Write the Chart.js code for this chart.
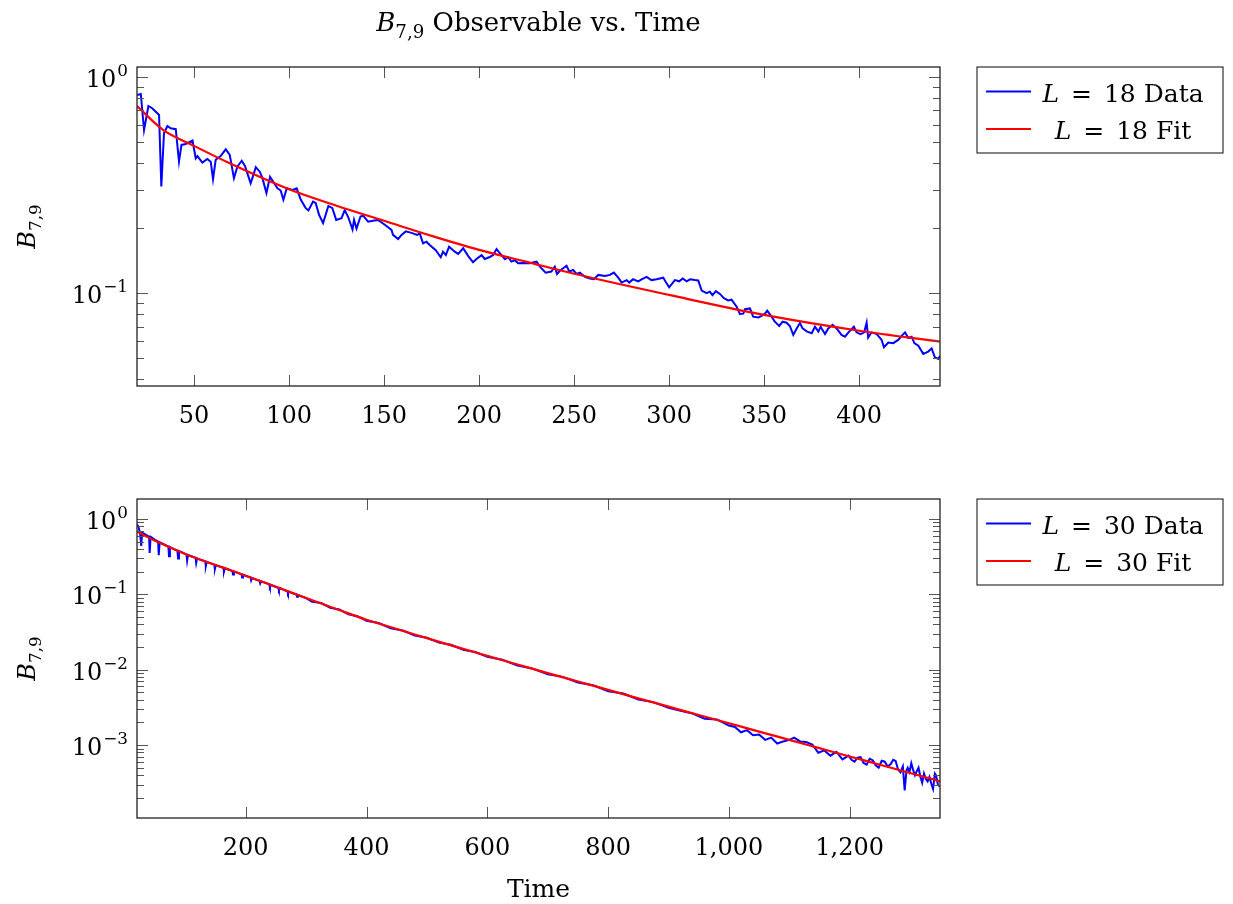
<!DOCTYPE html>
<html>
<head>
<meta charset="utf-8">
<script src="https://cdn.jsdelivr.net/npm/chart.js@4"></script>
<style>
  body { margin: 0; background: #fff; }
  canvas { position: absolute; left: 0; }
</style>
</head>
<body>
<canvas id="topChart" width="1233" height="452" style="top:0"></canvas>
<canvas id="bottomChart" width="1233" height="452" style="top:452px"></canvas>
<script>
// L = 18 data
const topTime = [20,22,23.7,26,28,30.7,31.6,32.8,34.2,36,37.7,40.4,42.1,43.4,45.6,49.2,50.9,51.8,54.4,57,58.8,60,61.4,64,66.7,68.8,71,72.8,75.1,76.8,79.8,80.7,82.5,84.6,86,88.1,90,91.6,93.9,95.6,97,98.8,101.8,104,106.2,108.8,110.2,112.6,114,115.8,117.9,120.7,122.8,124.8,127.6,129.3,131,133.4,134.2,135.5,137.6,139,141.6,144.2,146.8,150.4,153.9,154.7,157.4,159.2,161.4,164.4,167.4,168.8,170.5,172.3,174,177.2,179.8,181,182.5,184.2,187.2,189,191.6,194.2,196.8,198.6,201.3,203,205.6,207.4,209.2,210.9,213.6,215.3,217,218.8,220.5,223.2,226.7,230.2,232,235,238,239.8,241,242.5,246,247.4,249.5,251.3,253,255.7,258.3,260.4,262.7,266.2,268.8,270.9,273.2,275,277.6,279,281,283.7,285.5,288.1,290.7,293.4,296.9,298.3,300,303,305.3,307.1,309.2,311,313.5,315.3,317.1,319.7,321.4,322.8,324.6,326.7,328.8,331,332.8,335.5,337.2,339,339.9,342.5,344.2,346.9,348.6,350.4,351.6,353.9,355.6,357.9,359.7,361.8,363.5,365.3,367.1,368.8,370.2,372.6,375,376.7,378.5,379.7,382,383.7,386,388.1,390.7,392.5,394.7,397.2,398.6,400.7,402.6,403.9,404.7,406.5,409.2,411.8,413,415.3,417.9,420.5,422.3,424.1,425.8,427.6,429,431.1,433.7,436.3,438.1,439.8,441.6,442.5];
const topData = [0.823,0.832,0.567,0.732,0.715,0.678,0.665,0.311,0.548,0.592,0.578,0.572,0.405,0.484,0.489,0.507,0.42,0.43,0.401,0.417,0.405,0.336,0.413,0.43,0.462,0.435,0.34,0.384,0.409,0.387,0.322,0.34,0.382,0.364,0.34,0.29,0.345,0.328,0.305,0.298,0.27,0.305,0.3,0.305,0.27,0.247,0.241,0.265,0.261,0.23,0.211,0.253,0.247,0.218,0.222,0.242,0.226,0.197,0.218,0.199,0.226,0.228,0.214,0.216,0.218,0.207,0.196,0.186,0.178,0.186,0.193,0.19,0.186,0.189,0.17,0.173,0.167,0.158,0.1466,0.1556,0.15,0.164,0.1556,0.152,0.1613,0.1487,0.139,0.144,0.15,0.144,0.147,0.15,0.16,0.153,0.1435,0.1466,0.14,0.142,0.1375,0.138,0.1375,0.14,0.1327,0.1245,0.126,0.1327,0.1228,0.127,0.134,0.126,0.128,0.1228,0.1245,0.119,0.117,0.116,0.1215,0.12,0.1215,0.1245,0.118,0.112,0.115,0.112,0.116,0.1135,0.116,0.119,0.115,0.116,0.118,0.1125,0.1065,0.115,0.1135,0.117,0.1135,0.116,0.115,0.1145,0.1028,0.1,0.1017,0.098,0.1023,0.0993,0.0948,0.0927,0.0934,0.0867,0.0802,0.0805,0.0844,0.0851,0.078,0.0772,0.0786,0.0805,0.0831,0.078,0.0739,0.0706,0.0739,0.0731,0.0706,0.0642,0.0688,0.0728,0.0688,0.0665,0.0654,0.07,0.0665,0.07,0.0648,0.0688,0.0714,0.0688,0.0642,0.063,0.0665,0.07,0.066,0.0648,0.066,0.0731,0.0624,0.066,0.0648,0.0609,0.0563,0.0592,0.0588,0.0609,0.0636,0.066,0.0621,0.063,0.0588,0.0573,0.0525,0.0538,0.0556,0.0506,0.0497,0.0513];
const topFitTime = [20,33.7,50,68.8,100,125,150,175,200,225,250,300,350,400,442.5];
const topFit = [0.731,0.568,0.479,0.398,0.302,0.2535,0.216,0.184,0.1585,0.1396,0.123,0.0982,0.0794,0.0671,0.0598];

// L = 30 data
const botTime = [20,22,25,27,28.5,33,40,41,42.5,50,55,56,57.5,65,72,73,74.5,80,87,88,89.5,95,102,103,104.5,110,117,118,119.5,126,133,134,135.5,141,148,149,150.5,156,163,164,165.5,171,178,179,180.5,186,193,194,195.5,201,208,209,210.5,216,223,224,225.5,232,239,240,241.5,247,254,255,256.5,262,269,270,271.5,277,284,285,286.5,292,300,310,325,340,355,370,385,400,420,440,460,480,500,520,540,560,580,600,625,650,675,700,725,750,775,800,825,850,875,900,920,940,960,980,1000,1010,1020,1030,1040,1050,1060,1070,1080,1090,1100,1108,1118,1128,1138,1148,1158,1168,1178,1188,1198,1203,1208,1213,1218,1223,1228,1233,1238,1243,1248,1253,1258,1263,1268,1272,1276,1280,1284,1288,1291,1294,1296,1299,1302,1305,1308,1311,1314,1317,1320,1323,1326,1329,1332,1335,1338,1341,1343,1346,1349];
const botData = [0.84,0.80,0.66,0.44,0.66,0.63,0.58,0.353,0.58,0.53,0.5,0.33,0.49,0.46,0.43,0.32,0.425,0.40,0.38,0.30,0.375,0.36,0.337,0.28,0.333,0.32,0.305,0.26,0.30,0.287,0.274,0.238,0.27,0.26,0.248,0.218,0.245,0.235,0.225,0.2,0.222,0.214,0.204,0.183,0.201,0.194,0.185,0.167,0.182,0.175,0.167,0.153,0.165,0.158,0.151,0.14,0.149,0.143,0.136,0.126,0.134,0.128,0.122,0.114,0.121,0.116,0.11,0.103,0.109,0.104,0.0995,0.093,0.098,0.094,0.0891,0.0794,0.0767,0.0661,0.0631,0.0543,0.0513,0.0447,0.0417,0.0355,0.0331,0.0285,0.0266,0.0229,0.0214,0.0184,0.0172,0.0148,0.01355,0.01135,0.01035,0.00871,0.00804,0.00676,0.00624,0.00519,0.00484,0.00403,0.00372,0.00313,0.00285,0.00263,0.00224,0.00219,0.00182,0.00174,0.00148,0.00158,0.00135,0.00138,0.001175,0.00126,0.00105,0.00112,0.001175,0.00126,0.00112,0.0011,0.00102,0.000794,0.000851,0.000724,0.000813,0.000646,0.000724,0.00064,0.000603,0.00068,0.000692,0.00058,0.00055,0.00066,0.000631,0.00054,0.000501,0.00062,0.000603,0.00052,0.000562,0.00064,0.000617,0.00048,0.000437,0.00052,0.000251,0.00046,0.000501,0.00044,0.000575,0.00047,0.000398,0.00045,0.000501,0.00038,0.000316,0.00042,0.000355,0.00033,0.00038,0.00031,0.000263,0.00042,0.000398,0.0003,0.000282];
const botFitTime = [20,35,50,75,100,125,150,175,200,250,300,350,400,450,500,550,600,650,700,750,800,850,900,950,1000,1050,1100,1150,1200,1250,1300,1349.5];
const botFit = [0.684,0.59,0.513,0.419,0.343,0.288,0.245,0.209,0.1766,0.126,0.0893,0.0641,0.046,0.0347,0.0263,0.01995,0.01528,0.01175,0.00902,0.00698,0.00541,0.00417,0.00324,0.00251,0.00195,0.00151,0.001175,0.000912,0.000708,0.00055,0.000427,0.000331];

const FONT = '"DejaVu Serif", "Liberation Serif", serif';
const FS = 24;

function pairs(xs, ys) {
  return xs.map((x, i) => ({ x: x, y: ys[i] }));
}

// draw text made of runs: plain, italic, subscript, superscript
function drawRich(ctx, parts, x, y, size, align) {
  const runs = parts.map(p => {
    const small = p.s === 'sub' || p.s === 'sup';
    const font = (p.s === 'i' ? 'italic ' : '') + (small ? size * 0.7 : size) + 'px ' + FONT;
    ctx.font = font;
    const dy = p.s === 'sub' ? size * 0.26 : p.s === 'sup' ? -size * 0.45 : 0;
    return { t: p.t, font: font, w: ctx.measureText(p.t).width + (p.gap || 0), dy: dy };
  });
  const total = runs.reduce((a, r) => a + r.w, 0);
  let cx = align === 'right' ? x - total : align === 'center' ? x - total / 2 : x;
  ctx.textAlign = 'left';
  ctx.textBaseline = 'alphabetic';
  runs.forEach(r => {
    ctx.font = r.font;
    ctx.fillText(r.t, cx, y + r.dy);
    cx += r.w;
  });
}

const pgfAxes = {
  id: 'pgfAxes',
  afterDatasetsDraw(chart, args, opts) {
    const ctx = chart.ctx;
    const a = chart.chartArea;
    const xs = chart.scales.x, ys = chart.scales.y;
    ctx.save();

    function seg(x1, y1, x2, y2) {
      ctx.beginPath(); ctx.moveTo(x1, y1); ctx.lineTo(x2, y2); ctx.stroke();
    }

    // ticks pointing inwards on all four sides
    ctx.strokeStyle = '#555';
    ctx.lineWidth = 1;
    xs.ticks.forEach(t => {
      const px = Math.round(xs.getPixelForValue(t.value)) + 0.5;
      seg(px, a.bottom, px, a.bottom - 11);
      seg(px, a.top, px, a.top + 11);
    });
    const lo = Math.floor(Math.log10(ys.min)), hi = Math.ceil(Math.log10(ys.max));
    const majors = [];
    for (let e = lo; e <= hi; e++) {
      for (let m = 1; m <= 9; m++) {
        const v = m * Math.pow(10, e);
        if (v < ys.min || v > ys.max) continue;
        const py = Math.round(ys.getPixelForValue(v)) + 0.5;
        const len = m === 1 ? 11 : 7;
        seg(a.left, py, a.left + len, py);
        seg(a.right, py, a.right - len, py);
        if (m === 1) majors.push({ e: e, py: py });
      }
    }

    // frame
    ctx.strokeStyle = '#222';
    ctx.lineWidth = 1.3;
    ctx.strokeRect(a.left, a.top, a.right - a.left, a.bottom - a.top);

    // tick labels
    ctx.fillStyle = '#000';
    ctx.textBaseline = 'alphabetic';
    xs.ticks.forEach(t => {
      ctx.font = FS + 'px ' + FONT;
      ctx.textAlign = 'center';
      ctx.fillText(t.value.toLocaleString('en-US'), xs.getPixelForValue(t.value), a.bottom + 37);
    });
    majors.forEach(m => {
      const ex = m.e < 0 ? '\u2212' + (-m.e) : String(m.e);
      drawRich(ctx, [{ t: '10', gap: 1 }, { t: ex, s: 'sup' }], a.left - 9, m.py + 9, FS, 'right');
    });

    // y axis title
    ctx.save();
    ctx.translate(35, (a.top + a.bottom) / 2);
    ctx.rotate(-Math.PI / 2);
    drawRich(ctx, [{ t: 'B', s: 'i' }, { t: '7,9', s: 'sub' }], 0, 0, FS, 'center');
    ctx.restore();

    const cx = (a.left + a.right) / 2;
    if (opts.title) {
      drawRich(ctx, [{ t: 'B', s: 'i' }, { t: '7,9', s: 'sub' }, { t: ' Observable vs. Time' }], cx, 31, 26, 'center');
    }
    if (opts.xTitle) {
      drawRich(ctx, [{ t: opts.xTitle }], cx, a.bottom + 79, 25, 'center');
    }

    // legend box to the right of the plot
    const lx = a.right + 37, ly = a.top;
    ctx.fillStyle = '#fff';
    ctx.fillRect(lx, ly, 246, 86);
    ctx.strokeStyle = '#333';
    ctx.lineWidth = 1.2;
    ctx.strokeRect(lx, ly, 246, 86);
    chart.data.datasets.forEach((ds, i) => {
      const rowY = ly + 24.5 + i * 37.5;
      ctx.strokeStyle = ds.borderColor;
      ctx.lineWidth = 2;
      seg(lx + 9, rowY, lx + 54, rowY);
      ctx.fillStyle = '#000';
      const words = ds.label.split(' = ');
      drawRich(ctx, [{ t: words[0], s: 'i', gap: 12 }, { t: '=', gap: 12 }, { t: words[1] }], lx + 146, rowY + 10, 25, 'center');
    });
    ctx.restore();
  }
};

function makeChart(id, cfg) {
  return new Chart(document.getElementById(id).getContext('2d'), {
    type: 'line',
    data: {
      datasets: [
        { label: cfg.name + ' Data', data: cfg.data, borderColor: '#0000ff', borderWidth: 2, pointRadius: 0, tension: 0, order: 1 },
        { label: cfg.name + ' Fit', data: cfg.fit, borderColor: '#ff0000', borderWidth: 2.2, pointRadius: 0, tension: 0.4, cubicInterpolationMode: 'monotone', order: 0 }
      ]
    },
    options: {
      responsive: false,
      animation: false,
      devicePixelRatio: 1,
      layout: { padding: cfg.padding },
      scales: {
        x: {
          type: 'linear', min: cfg.xmin, max: cfg.xmax,
          ticks: { display: false, stepSize: cfg.step, includeBounds: false },
          grid: { display: false }, border: { display: false },
          afterFit(s) { s.height = 0; }
        },
        y: {
          type: 'logarithmic', min: cfg.ymin, max: cfg.ymax,
          ticks: { display: false },
          grid: { display: false }, border: { display: false },
          afterFit(s) { s.width = 0; }
        }
      },
      plugins: {
        legend: { display: false },
        tooltip: { enabled: false },
        pgfAxes: { title: cfg.title, xTitle: cfg.xTitle }
      }
    },
    plugins: [pgfAxes]
  });
}

makeChart('topChart', {
  name: 'L = 18',
  data: pairs(topTime, topData),
  fit: pairs(topFitTime, topFit),
  xmin: 20, xmax: 442.5, step: 50,
  ymin: 0.0373, ymax: 1.108,
  padding: { left: 137, right: 293, top: 67, bottom: 66 },
  title: true
});

makeChart('bottomChart', {
  name: 'L = 30',
  data: pairs(botTime, botData),
  fit: pairs(botFitTime, botFit),
  xmin: 20, xmax: 1349.5, step: 200,
  ymin: 0.000108, ymax: 1.84,
  padding: { left: 137, right: 293, top: 47, bottom: 86 },
  xTitle: 'Time'
});
</script>
</body>
</html>
